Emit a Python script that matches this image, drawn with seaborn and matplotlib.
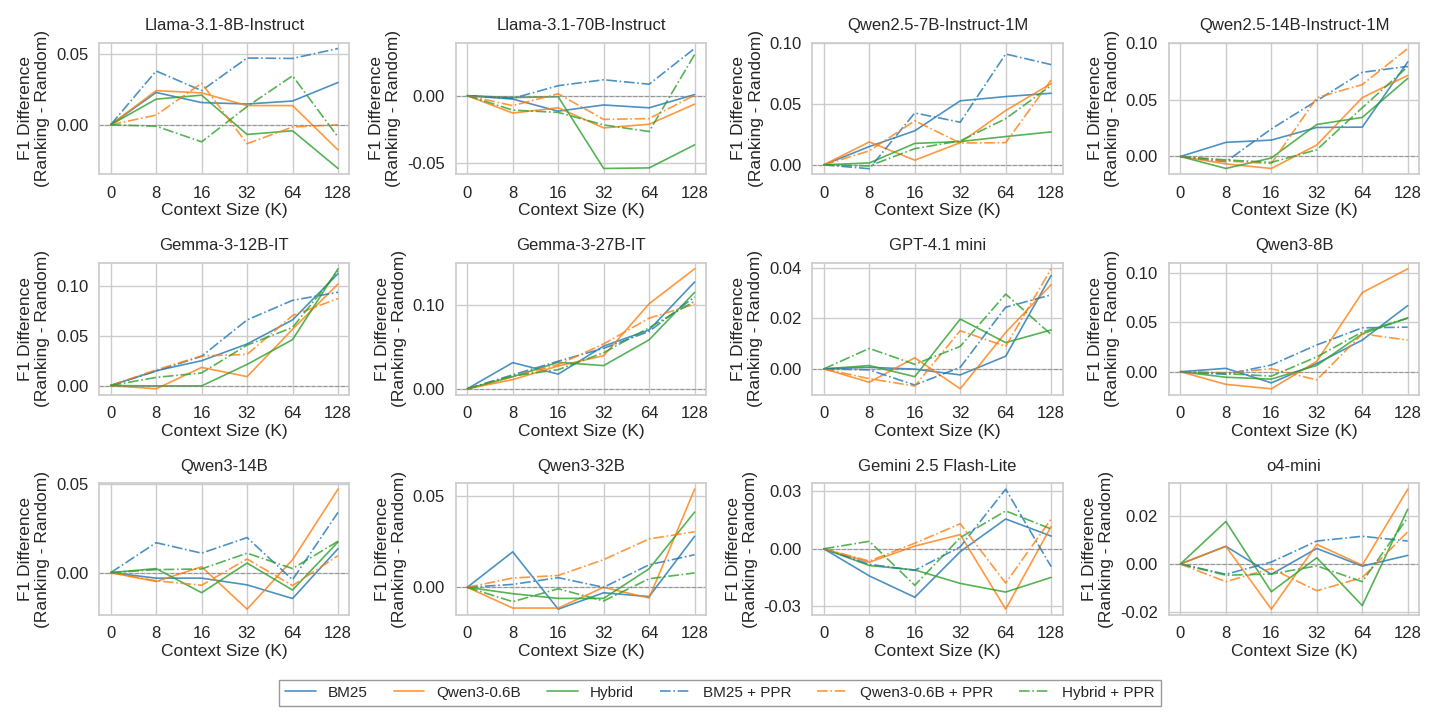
import numpy as np
import pandas as pd
import matplotlib
matplotlib.use("Agg")
import matplotlib.pyplot as plt
import seaborn as sns

# context sizes (K) shown as evenly spaced categories
context_sizes = [0, 8, 16, 32, 64, 128]

methods = ["BM25", "Qwen3-0.6B", "Hybrid", "BM25 + PPR", "Qwen3-0.6B + PPR", "Hybrid + PPR"]

models = ["Llama-3.1-8B-Instruct", "Llama-3.1-70B-Instruct", "Qwen2.5-7B-Instruct-1M",
          "Qwen2.5-14B-Instruct-1M", "Gemma-3-12B-IT", "Gemma-3-27B-IT", "GPT-4.1 mini",
          "Qwen3-8B", "Qwen3-14B", "Qwen3-32B", "Gemini 2.5 Flash-Lite", "o4-mini"]

# F1 difference (ranking - random), one row per method, in the order of `methods`
llama_8b = [
    [0, 0.0227, 0.0156, 0.0146, 0.0167, 0.0297],
    [0, 0.0240, 0.0224, 0.0135, 0.0135, -0.0177],
    [0, 0.0180, 0.0208, -0.0068, -0.0042, -0.0307],
    [0, 0.0378, 0.0240, 0.0469, 0.0466, 0.0536],
    [0, 0.0068, 0.0292, -0.0133, -0.0016, 0.0000],
    [0, -0.0010, -0.0120, 0.0128, 0.0344, -0.0086],
]
llama_70b = [
    [0, -0.0025, -0.0115, -0.0069, -0.0090, 0.0008],
    [0, -0.0129, -0.0090, -0.0239, -0.0212, -0.0063],
    [0, -0.0014, -0.0008, -0.0540, -0.0536, -0.0365],
    [0, -0.0020, 0.0074, 0.0118, 0.0085, 0.0350],
    [0, -0.0074, 0.0014, -0.0176, -0.0170, 0.0003],
    [0, -0.0107, -0.0124, -0.0217, -0.0266, 0.0305],
]
qwen25_7b = [
    [0, 0.0149, 0.0278, 0.0523, 0.0558, 0.0585],
    [0, 0.0187, 0.0038, 0.0181, 0.0444, 0.0664],
    [0, 0.0015, 0.0175, 0.0190, 0.0231, 0.0269],
    [0, -0.0032, 0.0424, 0.0348, 0.0906, 0.0819],
    [0, 0.0114, 0.0360, 0.0178, 0.0181, 0.0693],
    [0, -0.0009, 0.0132, 0.0196, 0.0377, 0.0649],
]
qwen25_14b = [
    [0, 0.0124, 0.0144, 0.0255, 0.0258, 0.0830],
    [0, -0.0065, -0.0105, 0.0101, 0.0516, 0.0712],
    [0, -0.0105, -0.0013, 0.0281, 0.0343, 0.0686],
    [0, -0.0046, 0.0242, 0.0490, 0.0739, 0.0791],
    [0, -0.0039, -0.0062, 0.0516, 0.0631, 0.0948],
    [0, -0.0030, -0.0052, 0.0059, 0.0428, 0.0788],
]
gemma_12b = [
    [0, 0.0148, 0.0248, 0.0415, 0.0656, 0.1119],
    [0, -0.0033, 0.0181, 0.0089, 0.0563, 0.1015],
    [0, -0.0004, -0.0004, 0.0211, 0.0459, 0.1167],
    [0, 0.0144, 0.0293, 0.0656, 0.0852, 0.0933],
    [0, 0.0156, 0.0296, 0.0311, 0.0700, 0.0870],
    [0, 0.0081, 0.0126, 0.0404, 0.0581, 0.1144],
]
gemma_27b = [
    [0, 0.0313, 0.0176, 0.0511, 0.0705, 0.1278],
    [0, 0.0110, 0.0273, 0.0396, 0.1018, 0.1436],
    [0, 0.0145, 0.0317, 0.0278, 0.0586, 0.1154],
    [0, 0.0167, 0.0330, 0.0485, 0.0687, 0.1101],
    [0, 0.0145, 0.0290, 0.0537, 0.0846, 0.1013],
    [0, 0.0154, 0.0229, 0.0432, 0.0731, 0.1048],
]
gpt41_mini = [
    [0, 0.0006, -0.0001, -0.0024, 0.0050, 0.0370],
    [0, -0.0053, 0.0044, -0.0079, 0.0144, 0.0333],
    [0, 0.0013, -0.0031, 0.0197, 0.0104, 0.0154],
    [0, -0.0004, -0.0064, 0.0006, 0.0244, 0.0293],
    [0, -0.0039, -0.0068, 0.0151, 0.0089, 0.0396],
    [0, 0.0081, 0.0018, 0.0089, 0.0296, 0.0136],
]
qwen3_8b = [
    [0, 0.0034, -0.0113, 0.0083, 0.0320, 0.0669],
    [0, -0.0128, -0.0173, 0.0105, 0.0801, 0.1041],
    [0, -0.0056, -0.0075, 0.0064, 0.0383, 0.0545],
    [0, -0.0026, 0.0068, 0.0271, 0.0444, 0.0451],
    [0, -0.0011, 0.0030, -0.0083, 0.0383, 0.0320],
    [0, -0.0019, -0.0045, 0.0150, 0.0402, 0.0541],
]
qwen3_14b = [
    [0, -0.0031, -0.0031, -0.0069, -0.0146, 0.0135],
    [0, -0.0050, 0.0033, -0.0206, 0.0073, 0.0471],
    [0, 0.0023, -0.0113, 0.0054, -0.0098, 0.0173],
    [0, 0.0169, 0.0110, 0.0198, -0.0040, 0.0340],
    [0, -0.0046, -0.0071, 0.0077, -0.0073, 0.0096],
    [0, 0.0017, 0.0021, 0.0110, 0.0023, 0.0177],
]
qwen3_32b = [
    [0, 0.0195, -0.0120, -0.0030, -0.0051, 0.0280],
    [0, -0.0114, -0.0114, 0.0000, -0.0059, 0.0539],
    [0, -0.0035, -0.0061, -0.0061, 0.0102, 0.0413],
    [0, 0.0016, 0.0053, 0.0000, 0.0124, 0.0179],
    [0, 0.0051, 0.0065, 0.0152, 0.0266, 0.0305],
    [0, -0.0079, -0.0008, -0.0075, 0.0047, 0.0079],
]
gemini_flash_lite = [
    [0, -0.0141, -0.0252, -0.0015, 0.0155, 0.0066],
    [0, -0.0070, 0.0014, 0.0074, -0.0314, 0.0116],
    [0, -0.0087, -0.0110, -0.0180, -0.0225, -0.0149],
    [0, -0.0081, -0.0112, 0.0010, 0.0310, -0.0093],
    [0, -0.0064, 0.0029, 0.0130, -0.0178, 0.0155],
    [0, 0.0039, -0.0190, 0.0058, 0.0197, 0.0103],
]
o4_mini = [
    [0, 0.0074, -0.0043, 0.0065, -0.0009, 0.0036],
    [0, 0.0074, -0.0189, 0.0082, -0.0005, 0.0313],
    [0, 0.0178, -0.0116, 0.0026, -0.0174, 0.0229],
    [0, -0.0043, 0.0008, 0.0096, 0.0116, 0.0096],
    [0, -0.0074, -0.0019, -0.0112, -0.0057, 0.0135],
    [0, -0.0047, -0.0042, -0.0008, -0.0074, 0.0194],
]

model_values = [llama_8b, llama_70b, qwen25_7b, qwen25_14b, gemma_12b, gemma_27b,
                gpt41_mini, qwen3_8b, qwen3_14b, qwen3_32b, gemini_flash_lite, o4_mini]

# y ticks as they appear in each panel
yticks = [
    [0.0, 0.05], [-0.05, 0.0], [0.0, 0.05, 0.10], [0.0, 0.05, 0.10],
    [0.0, 0.05, 0.10], [0.0, 0.10], [0.0, 0.02, 0.04], [0.0, 0.05, 0.10],
    [0.0, 0.05], [0.0, 0.05], [-0.03, 0.0, 0.03], [-0.02, 0.0, 0.02],
]

sns.set_theme(style="whitegrid")
plt.rcParams['font.family'] = ['Liberation Sans', 'DejaVu Sans']

palette = sns.color_palette("tab10")
colors = [palette[0], palette[1], palette[2]] * 2
styles = ["-"] * 3 + ["-."] * 3

fig, axes = plt.subplots(3, 4, figsize=(14.4, 7.28))

x_pos = np.arange(len(context_sizes))

for i, ax in enumerate(axes.flat):
    rows = []
    for m, vals in zip(methods, model_values[i]):
        for xp, v in zip(x_pos, vals):
            rows.append({"x": xp, "y": v, "method": m})
    df = pd.DataFrame(rows)
    for j, m in enumerate(methods):
        sub = df[df["method"] == m]
        sns.lineplot(data=sub, x="x", y="y", ax=ax, color=colors[j], linestyle=styles[j],
                     linewidth=1.2, alpha=0.8, label=m, legend=False)
    ax.axhline(0, color="gray", linestyle="--", linewidth=0.8, alpha=0.7)
    ax.set_xticks(x_pos)
    ax.set_xticklabels([str(c) for c in context_sizes])
    ax.set_yticks(yticks[i])
    ax.set_yticklabels([f"{t:.2f}" for t in yticks[i]])
    ax.set_title(models[i], fontsize=12, pad=9)
    ax.set_xlabel("Context Size (K)", fontsize=12.5, labelpad=2)
    ax.set_ylabel("F1 Difference\n(Ranking - Random)", fontsize=12.5)
    ax.tick_params(labelsize=12, pad=2)
    for s in ax.spines.values():
        s.set_color("#cccccc")

handles, labels = axes.flat[0].get_legend_handles_labels()
fig.legend(handles[:6], labels[:6], loc="lower center", ncol=6, fontsize=11,
           bbox_to_anchor=(0.5, 0.02), frameon=True, edgecolor="gray",
           fancybox=False, handlelength=2.0, columnspacing=1.7)

plt.tight_layout(rect=[0, 0.07, 1, 1], h_pad=1.2, w_pad=1.0)
plt.savefig("out.png", dpi=100)
